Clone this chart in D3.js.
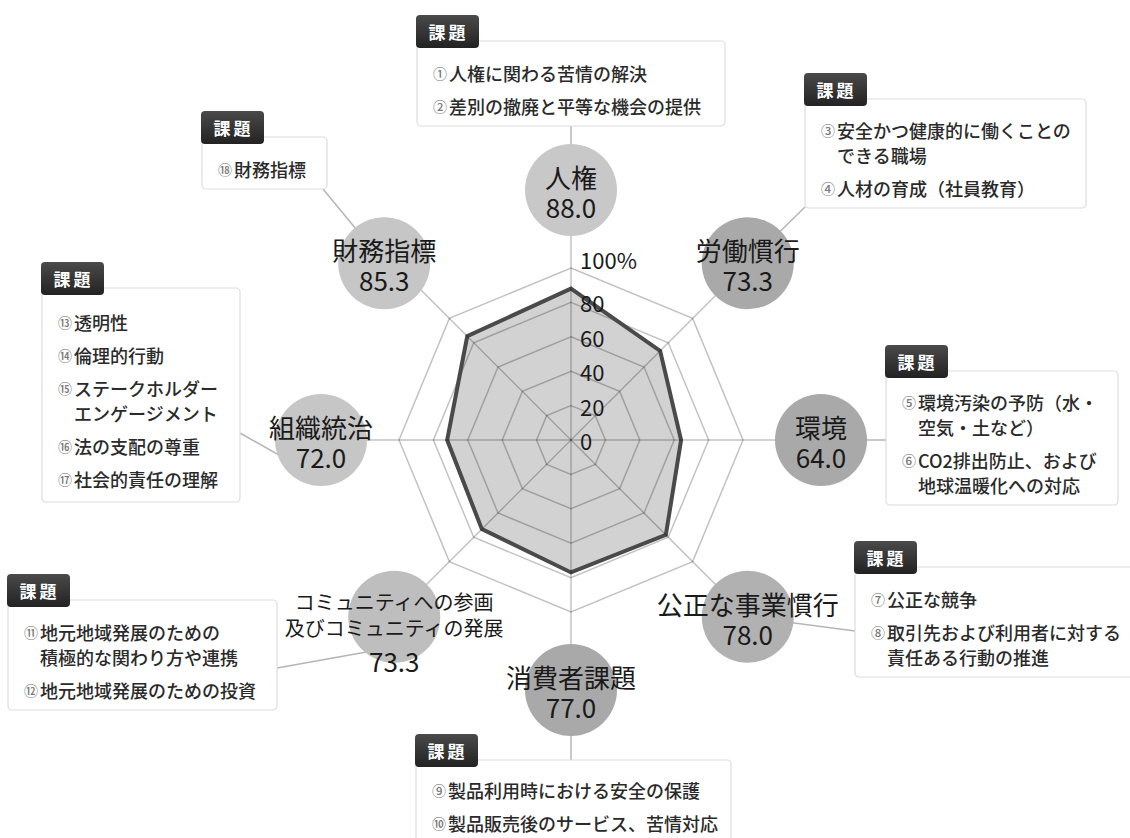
<!DOCTYPE html>
<html>
<head>
<meta charset="utf-8">
<script src="https://cdn.jsdelivr.net/npm/d3@7"></script>
<style>
  body { margin: 0; background: #fff; }
  svg text { font-family: "Noto Sans CJK JP", "Noto Sans", sans-serif; }
</style>
</head>
<body>
<div id="chart"></div>
<script>
// ---- data ----
const categories = ["人権", "労働慣行", "環境", "公正な事業慣行", "消費者課題",
  "コミュニティへの参画\n及びコミュニティの発展", "組織統治", "財務指標"];
const values = [88.0, 73.3, 64.0, 78.0, 77.0, 73.3, 72.0, 85.3];
const ticks = [0, 20, 40, 60, 80, 100];
const tickLabels = ["0", "20", "40", "60", "80", "100%"];
const issues = [
  [["①", "人権に関わる苦情の解決"], ["②", "差別の撤廃と平等な機会の提供"]],
  [["③", "安全かつ健康的に働くことの", "できる職場"], ["④", "人材の育成（社員教育）"]],
  [["⑤", "環境汚染の予防（水・", "空気・土など）"], ["⑥", "CO2排出防止、および", "地球温暖化への対応"]],
  [["⑦", "公正な競争"], ["⑧", "取引先および利用者に対する", "責任ある行動の推進"]],
  [["⑨", "製品利用時における安全の保護"], ["⑩", "製品販売後のサービス、苦情対応"]],
  [["⑪", "地元地域発展のための", "積極的な関わり方や連携"], ["⑫", "地元地域発展のための投資"]],
  [["⑬", "透明性"], ["⑭", "倫理的行動"], ["⑮", "ステークホルダー", "エンゲージメント"],
   ["⑯", "法の支配の尊重"], ["⑰", "社会的責任の理解"]],
  [["⑱", "財務指標"]]
];

// ---- layout / style ----
const width = 1130, height = 838;
const cx = 571, cy = 440;
const rMax = 172, labelRadius = 250, bubbleR = 46;
const bubbleFill = ["#c8c8c8", "#a9a9a9", "#a9a9a9", "#b1b1b1", "#a9a9a9", "#bebebe", "#c6c6c6", "#c6c6c6"];
const bubbleShiftX = [0, 0, 0, 0, 0, 0, 0, -10];
// issue boxes: position, connector anchor on box, and point the connector aims at
const boxes = [
  { x: 417, y: 41,  w: 308, h: 85,  ax: 571, ay: 126, tx: null, ty: null },
  { x: 805, y: 99,  w: 281, h: 109, ax: 805, ay: 207, tx: null, ty: null },
  { x: 886, y: 371, w: 232, h: 134, ax: 886, ay: 440, tx: null, ty: null },
  { x: 855, y: 567, w: 285, h: 110, ax: 855, ay: 631, tx: null, ty: null },
  { x: 416, y: 760, w: 315, h: 95,  ax: 571, ay: 760, tx: null, ty: null },
  { x: 8,   y: 600, w: 269, h: 110, ax: 277, ay: 668, tx: 400, ty: 646 },
  { x: 42,  y: 288, w: 198, h: 214, ax: 240, ay: 433, tx: 300, ty: 467 },
  { x: 202, y: 137, w: 125, h: 52,  ax: 323, ay: 189, tx: null, ty: null }
];

const svg = d3.select("#chart").append("svg")
  .attr("width", width).attr("height", height);

const r = d3.scaleLinear().domain([0, 100]).range([0, rMax]);
const angle = d3.scaleLinear().domain([0, categories.length]).range([0, 2 * Math.PI]);
const px = (i, rad) => cx + rad * Math.sin(angle(i));
const py = (i, rad) => cy - rad * Math.cos(angle(i));
const bx = i => px(i, labelRadius) + bubbleShiftX[i];
const by = i => py(i, labelRadius);

const g = svg.append("g").attr("transform", `translate(${cx},${cy})`);
const radial = d3.lineRadial()
  .angle((d, i) => angle(i))
  .curve(d3.curveLinearClosed);

// data fill (under grid)
g.append("path")
  .datum(values)
  .attr("d", radial.radius(d => r(d)))
  .attr("fill", "#d2d2d2");

// rings
g.selectAll(".ring")
  .data(ticks.filter(t => t > 0))
  .enter().append("path")
  .attr("class", "ring")
  .attr("d", t => radial.radius(() => r(t))(categories))
  .attr("fill", "none")
  .attr("stroke", "rgba(0,0,0,0.24)")
  .attr("stroke-width", 1.5);

// spokes + connectors (under bubbles)
svg.selectAll(".spoke")
  .data(categories)
  .enter().append("line")
  .attr("x1", cx).attr("y1", cy)
  .attr("x2", (d, i) => px(i, labelRadius))
  .attr("y2", (d, i) => py(i, labelRadius))
  .attr("stroke", "rgba(0,0,0,0.24)")
  .attr("stroke-width", 1.5);

svg.selectAll(".connector")
  .data(boxes)
  .enter().append("line")
  .attr("x1", d => d.ax).attr("y1", d => d.ay)
  .attr("x2", (d, i) => d.tx != null ? d.tx : bx(i))
  .attr("y2", (d, i) => d.ty != null ? d.ty : by(i))
  .attr("stroke", "#b5b5b5")
  .attr("stroke-width", 1.5);

// data outline
g.append("path")
  .datum(values)
  .attr("d", radial.radius(d => r(d)))
  .attr("fill", "none")
  .attr("stroke", "#4a4a4a")
  .attr("stroke-width", 4)
  .attr("stroke-linejoin", "miter");

// tick labels
svg.selectAll(".tick")
  .data(ticks)
  .enter().append("text")
  .attr("x", cx + 9)
  .attr("y", (t, i) => cy - r(t) - (i === ticks.length - 1 ? 9 : 0))
  .attr("dominant-baseline", "central")
  .attr("font-size", 22)
  .attr("fill", "#1a1a1a")
  .text((t, i) => tickLabels[i]);

// bubbles with category names and values
const bubble = svg.selectAll(".bubble")
  .data(categories)
  .enter().append("g")
  .attr("transform", (d, i) => `translate(${bx(i)},${by(i)})`);

bubble.append("circle")
  .attr("r", bubbleR)
  .attr("fill", (d, i) => bubbleFill[i]);

bubble.each(function (d, i) {
  const lines = d.split("\n");
  const multi = lines.length > 1;
  const t = d3.select(this).append("text")
    .attr("text-anchor", "middle")
    .attr("dominant-baseline", "central")
    .attr("fill", "#1a1a1a");
  lines.forEach((ln, k) => {
    t.append("tspan")
      .attr("x", 0)
      .attr("y", multi ? -16 + k * 26 : -14)
      .attr("font-size", multi ? 20 : 26)
      .text(ln);
  });
  t.append("tspan")
    .attr("x", 0)
    .attr("y", multi ? 43 : 16)
    .attr("font-size", 26)
    .text(values[i].toFixed(1));
});

// issue boxes
const boxG = svg.selectAll(".box")
  .data(boxes)
  .enter().append("g");

boxG.append("rect")
  .attr("x", d => d.x).attr("y", d => d.y)
  .attr("width", d => d.w).attr("height", d => d.h)
  .attr("rx", 4)
  .attr("fill", "#fff")
  .attr("stroke", "#dcdcdc")
  .attr("stroke-width", 1.2);

const defs = svg.append("defs");
const grad = defs.append("linearGradient").attr("id", "tabGrad")
  .attr("x1", 0).attr("y1", 0).attr("x2", 0).attr("y2", 1);
grad.append("stop").attr("offset", "0%").attr("stop-color", "#4a4a4a");
grad.append("stop").attr("offset", "100%").attr("stop-color", "#222");

boxG.append("rect")
  .attr("x", d => d.x - 1).attr("y", d => d.y - 26)
  .attr("width", 63).attr("height", 33)
  .attr("rx", 4)
  .attr("fill", "url(#tabGrad)");

boxG.append("text")
  .attr("x", d => d.x + 31.5).attr("y", d => d.y - 9.5)
  .attr("text-anchor", "middle")
  .attr("dominant-baseline", "central")
  .attr("font-size", 17)
  .attr("font-weight", "bold")
  .attr("letter-spacing", 3)
  .attr("fill", "#fff")
  .text("課題");

boxG.each(function (b, i) {
  const sel = d3.select(this);
  const items = issues[i];
  // build line list with offsets
  const rows = [];
  let yOff = 0;
  items.forEach((it, k) => {
    if (k > 0) yOff += 33;
    rows.push({ num: it[0], text: it[1], y: yOff });
    for (let j = 2; j < it.length; j++) {
      yOff += 25;
      rows.push({ num: null, text: it[j], y: yOff });
    }
  });
  const top = b.y + 7, bottom = b.y + b.h;
  const startY = i === 4 ? b.y + 30 : (top + bottom) / 2 + 2 - yOff / 2;
  const x0 = b.x + 16;
  rows.forEach(rw => {
    const t = sel.append("text")
      .attr("y", startY + rw.y)
      .attr("dominant-baseline", "central")
      .attr("font-size", 18)
      .attr("font-weight", 500)
      .attr("fill", "#2a2a2a");
    if (rw.num) {
      t.attr("x", x0);
      t.append("tspan").attr("font-size", 14).attr("fill", "#7a7a7a").text(rw.num);
      t.append("tspan").attr("dx", 2).text(rw.text);
    } else {
      t.attr("x", x0 + 16).text(rw.text);
    }
  });
});
</script>
</body>
</html>
